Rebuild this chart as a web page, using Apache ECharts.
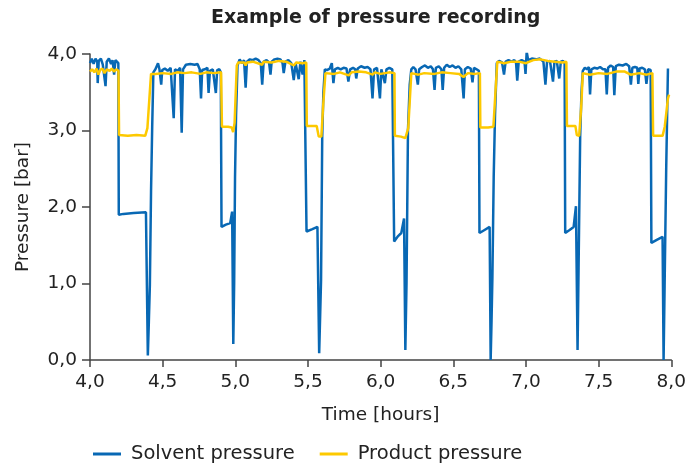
<!DOCTYPE html>
<html>
<head>
<meta charset="utf-8">
<script src="https://cdn.jsdelivr.net/npm/echarts@6/dist/echarts.min.js"></script>
<style>
html,body{margin:0;padding:0;background:#fff;}
#chart{width:689px;height:464px;}
</style>
</head>
<body>
<div id="chart"></div>
<script>
var titleText = "Example of pressure recording";
var xAxisName = "Time [hours]";
var yAxisName = "Pressure [bar]";
var seriesNames = ["Solvent pressure", "Product pressure"];

var solventTime = [
4.000,4.012,4.025,4.038,4.050,4.053,4.060,4.075,4.088,4.107,4.115,4.130,4.145,4.155,4.166,4.175,4.188,4.195,4.198,4.230,4.300,4.385,4.392,4.398,4.405,4.412,4.420,4.428,4.436,
4.450,4.468,4.478,4.490,4.497,4.515,4.535,4.555,4.568,4.576,4.585,4.605,4.620,4.631,4.640,4.660,4.690,4.720,4.740,4.755,4.764,4.772,4.790,4.808,4.816,4.825,4.845,4.858,4.866,4.875,4.890,4.900,
4.905,4.935,4.965,4.974,4.978,4.986,4.992,4.998,5.005,5.015,
5.030,5.045,5.060,5.071,5.080,5.100,5.120,5.140,5.160,5.175,5.185,5.195,5.215,5.232,5.242,5.250,5.270,5.290,5.310,5.325,5.333,5.345,5.365,5.385,5.402,5.415,5.436,5.448,5.463,5.475,5.486,
5.490,5.530,5.565,5.570,5.577,5.584,5.590,5.598,5.606,5.616,
5.630,5.650,5.664,5.675,5.685,5.705,5.725,5.745,5.765,5.778,5.790,5.810,5.825,5.832,5.842,5.865,5.890,5.910,5.930,5.944,5.955,5.975,5.987,5.995,6.005,6.018,6.029,6.040,6.060,6.080,6.090,
6.093,6.120,6.142,6.155,6.161,6.170,6.178,6.188,6.200,6.211,
6.225,6.240,6.256,6.265,6.285,6.305,6.325,6.345,6.360,6.371,6.380,6.400,6.418,6.427,6.437,6.455,6.475,6.495,6.515,6.535,6.555,6.571,6.580,6.600,6.620,6.632,6.642,6.660,6.676,
6.680,6.715,6.750,6.757,6.763,6.769,6.778,6.787,6.799,
6.815,6.835,6.849,6.860,6.880,6.900,6.920,6.932,6.940,6.950,6.970,6.990,6.997,7.005,7.015,7.040,7.070,7.095,7.120,7.134,7.145,7.165,7.176,7.186,7.196,7.212,7.229,7.240,7.255,7.266,
7.270,7.300,7.328,7.340,7.344,7.355,7.362,7.373,7.382,7.391,
7.405,7.420,7.433,7.441,7.450,7.470,7.490,7.510,7.530,7.547,7.556,7.565,7.583,7.600,7.608,7.618,7.640,7.665,7.690,7.710,7.722,7.732,7.750,7.766,7.773,7.782,7.800,7.818,7.829,7.840,7.858,
7.863,7.900,7.940,7.947,7.954,7.965,7.977
];
var solventPressure = [
3.88,3.94,3.87,3.94,3.90,3.62,3.91,3.94,3.86,3.58,3.90,3.94,3.87,3.92,3.73,3.92,3.94,3.88,1.90,1.91,1.92,1.93,1.92,0.06,0.50,0.98,2.20,3.05,3.76,
3.80,3.88,3.80,3.60,3.79,3.81,3.78,3.82,3.80,3.16,3.80,3.78,3.82,2.97,3.80,3.86,3.87,3.86,3.87,3.80,3.42,3.79,3.80,3.82,3.49,3.78,3.80,3.81,3.49,3.79,3.80,3.76,
1.74,1.77,1.79,1.80,1.94,0.21,1.00,2.40,3.20,3.85,
3.93,3.88,3.92,3.56,3.90,3.93,3.92,3.94,3.92,3.88,3.60,3.90,3.92,3.89,3.73,3.90,3.93,3.94,3.93,3.88,3.75,3.90,3.92,3.88,3.66,3.88,3.67,3.90,3.73,3.92,3.90,
1.68,1.71,1.74,1.74,0.09,0.60,1.05,2.92,3.50,3.80,
3.79,3.81,3.88,3.62,3.80,3.82,3.80,3.82,3.81,3.64,3.80,3.82,3.80,3.68,3.81,3.84,3.82,3.83,3.80,3.42,3.80,3.82,3.81,3.42,3.80,3.80,3.62,3.80,3.82,3.80,3.78,
1.55,1.62,1.66,1.68,1.85,0.13,1.00,3.00,3.60,3.80,
3.83,3.80,3.60,3.80,3.83,3.85,3.82,3.84,3.80,3.53,3.82,3.84,3.80,3.53,3.82,3.86,3.83,3.85,3.82,3.84,3.80,3.42,3.80,3.83,3.81,3.63,3.82,3.80,3.78,
1.66,1.70,1.74,0.00,0.50,1.08,2.40,3.20,3.88,
3.91,3.89,3.73,3.90,3.92,3.90,3.92,3.88,3.65,3.90,3.92,3.90,3.74,4.03,3.92,3.94,3.93,3.94,3.90,3.60,3.90,3.91,3.90,3.64,3.90,3.91,3.68,3.90,3.91,3.88,
1.66,1.70,1.74,1.76,2.01,0.13,1.20,2.92,3.50,3.78,
3.82,3.80,3.83,3.47,3.80,3.82,3.81,3.83,3.80,3.80,3.47,3.82,3.85,3.83,3.46,3.84,3.86,3.85,3.87,3.84,3.60,3.82,3.83,3.82,3.61,3.81,3.82,3.80,3.61,3.80,3.79,
1.53,1.57,1.61,0.00,0.96,2.50,3.81
];

var productTime = [
4.000,4.015,4.030,4.045,4.058,4.070,4.085,4.100,4.115,4.135,4.150,4.165,4.180,4.196,
4.200,4.260,4.320,4.380,4.388,4.395,4.402,4.420,
4.450,4.500,4.560,4.600,4.650,4.700,4.760,4.800,4.850,4.902,
4.908,4.950,4.975,4.985,4.995,5.010,5.020,
5.060,5.071,5.080,5.120,5.185,5.195,5.250,5.300,5.350,5.402,5.420,5.460,5.488,
5.492,5.560,5.568,5.574,5.592,5.605,5.620,
5.680,5.720,5.780,5.800,5.850,5.900,5.945,5.960,6.000,6.030,6.060,6.095,
6.098,6.140,6.170,6.190,6.211,
6.260,6.300,6.370,6.420,6.480,6.540,6.570,6.600,6.650,6.683,
6.686,6.740,6.776,6.790,6.803,
6.850,6.900,6.950,7.000,7.050,7.100,7.150,7.200,7.250,7.278,
7.282,7.340,7.350,7.366,7.380,7.391,
7.440,7.500,7.560,7.620,7.680,7.720,7.780,7.830,7.870,
7.875,7.940,7.955,7.977,7.985
];
var productPressure = [
3.77,3.80,3.76,3.81,3.73,3.79,3.81,3.75,3.80,3.78,3.81,3.77,3.80,3.78,
2.94,2.93,2.94,2.93,2.95,3.03,3.05,3.74,
3.74,3.75,3.74,3.76,3.75,3.76,3.74,3.76,3.75,3.76,
3.05,3.05,3.04,2.98,3.10,3.85,3.89,
3.89,3.85,3.89,3.90,3.86,3.90,3.89,3.91,3.90,3.85,3.89,3.88,3.89,
3.06,3.06,3.05,2.92,2.92,3.34,3.75,
3.74,3.76,3.72,3.76,3.77,3.76,3.73,3.76,3.74,3.75,3.76,3.75,
2.93,2.92,2.90,3.03,3.75,
3.73,3.75,3.74,3.76,3.75,3.74,3.70,3.75,3.74,3.75,
3.04,3.04,3.05,3.50,3.90,
3.88,3.90,3.90,3.88,3.92,3.93,3.91,3.90,3.89,3.90,
3.06,3.06,2.94,2.93,3.30,3.75,
3.73,3.75,3.74,3.77,3.77,3.73,3.75,3.73,3.75,
2.93,2.93,3.05,3.42,3.47
];

function pairs(t, v){ return t.map(function(x,i){ return [x, v[i]]; }); }
function comma(v){ return v.toFixed(1).replace('.', ','); }

var FONT = 'DejaVu Sans';
var axisColor = '#444444';
var textColor = '#222222';

var chart = echarts.init(document.getElementById('chart'), null, {renderer:'canvas'});
chart.setOption({
  animation: false,
  backgroundColor: '#ffffff',
  title: {
    text: titleText,
    left: 206, top: 4,
    textStyle: {fontFamily: FONT, fontWeight: 'bold', fontSize: 19, color: textColor}
  },
  legend: {
    left: 93, bottom: 0, padding: 0,
    icon: 'rect', itemWidth: 28, itemHeight: 3, itemGap: 25,
    textStyle: {fontFamily: FONT, fontSize: 19.5, color: textColor, padding: [0, 0, 0, 5]},
    data: seriesNames
  },
  grid: {left: 90, right: 14, top: 54, bottom: 104, containLabel: false},
  xAxis: {
    type: 'value', min: 4, max: 8, interval: 0.5,
    name: xAxisName, nameLocation: 'middle', nameGap: 46,
    nameTextStyle: {fontFamily: FONT, fontSize: 18.5, color: textColor},
    axisLine: {show: true, onZero: false, lineStyle: {color: axisColor, width: 1.5}},
    axisTick: {show: true, length: 7, lineStyle: {color: axisColor, width: 1.5}},
    axisLabel: {fontFamily: FONT, fontSize: 18.5, color: textColor, margin: 13, formatter: comma},
    splitLine: {show: false}
  },
  yAxis: {
    type: 'value', min: 0, max: 4, interval: 1,
    name: yAxisName, nameLocation: 'middle', nameGap: 57, nameRotate: 90,
    nameTextStyle: {fontFamily: FONT, fontSize: 18.5, color: textColor},
    axisLine: {show: true, lineStyle: {color: axisColor, width: 1.5}},
    axisTick: {show: true, length: 8, lineStyle: {color: axisColor, width: 1.5}},
    axisLabel: {fontFamily: FONT, fontSize: 18.5, color: textColor, margin: 13, formatter: comma},
    splitLine: {show: false}
  },
  series: [
    {
      name: seriesNames[0], type: 'line', showSymbol: false, symbol: 'none',
      data: pairs(solventTime, solventPressure),
      lineStyle: {color: '#0868b4', width: 2.5},
      itemStyle: {color: '#0868b4'},
      z: 2
    },
    {
      name: seriesNames[1], type: 'line', showSymbol: false, symbol: 'none',
      data: pairs(productTime, productPressure),
      lineStyle: {color: '#fdc900', width: 2.5},
      itemStyle: {color: '#fdc900'},
      z: 3
    }
  ]
});
</script>
</body>
</html>
